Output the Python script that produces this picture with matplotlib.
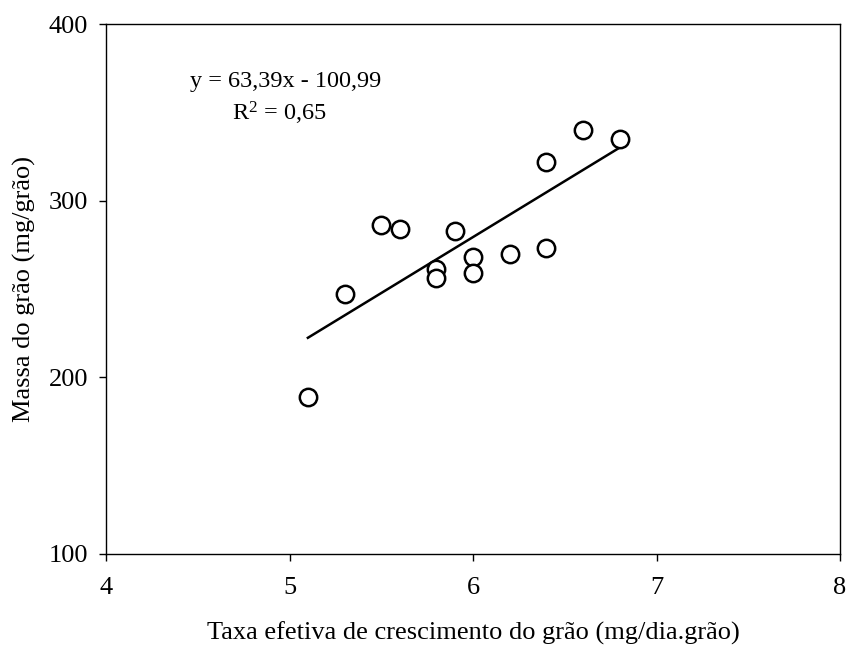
import matplotlib
matplotlib.use("Agg")
import matplotlib.pyplot as plt
import numpy as np

plt.rcParams['font.family'] = ['Liberation Serif', 'DejaVu Serif']
plt.rcParams['mathtext.fontset'] = 'custom'
plt.rcParams['mathtext.rm'] = 'Liberation Serif'
plt.rcParams['mathtext.it'] = 'Liberation Serif:italic'

# Data
taxa = [5.1, 5.3, 5.5, 5.6, 5.9, 5.8, 5.8, 6.0, 6.0, 6.2, 6.4, 6.4, 6.6, 6.8]
massa = [189, 247, 286, 284, 283, 261, 256, 268, 259, 270, 322, 273, 340, 335]
slope = 63.39
intercept = -100.99
r2 = 0.65
x_ticks = [4, 5, 6, 7, 8]
y_ticks = [100, 200, 300, 400]

fig = plt.figure(figsize=(8.49, 6.53), dpi=100)
ax = fig.add_axes([0.1249, 0.152, 0.8645, 0.8112])

ax.plot(taxa, massa, linestyle='none', marker='o', markersize=12.5,
        markerfacecolor='white', markeredgecolor='black', markeredgewidth=1.8, zorder=3)

xl = np.array([min(taxa), max(taxa)])
ax.plot(xl, slope * xl + intercept, color='black', linewidth=1.8, zorder=2)

ax.set_xlim(4, 8)
ax.set_ylim(100, 400)
ax.set_xticks(x_ticks)
ax.set_yticks(y_ticks)
ax.tick_params(direction='out', length=5, width=1, labelsize=19)
ax.tick_params(axis='x', pad=12)
ax.tick_params(axis='y', pad=8)
for s in ax.spines.values():
    s.set_linewidth(1)

ax.set_xlabel('Taxa efetiva de crescimento do grão (mg/dia.grão)', fontsize=19, labelpad=16)
ax.set_ylabel('Massa do grão (mg/grão)', fontsize=19, labelpad=9)

ax.text(4.458, 364.4, 'y = 63,39x - 100,99', ha='left', va='baseline', fontsize=17.5)
ax.text(4.943, 345.6, 'R$^2$ = 0,65', ha='center', va='baseline', fontsize=17.5)

fig.savefig('out.png', dpi=100)
